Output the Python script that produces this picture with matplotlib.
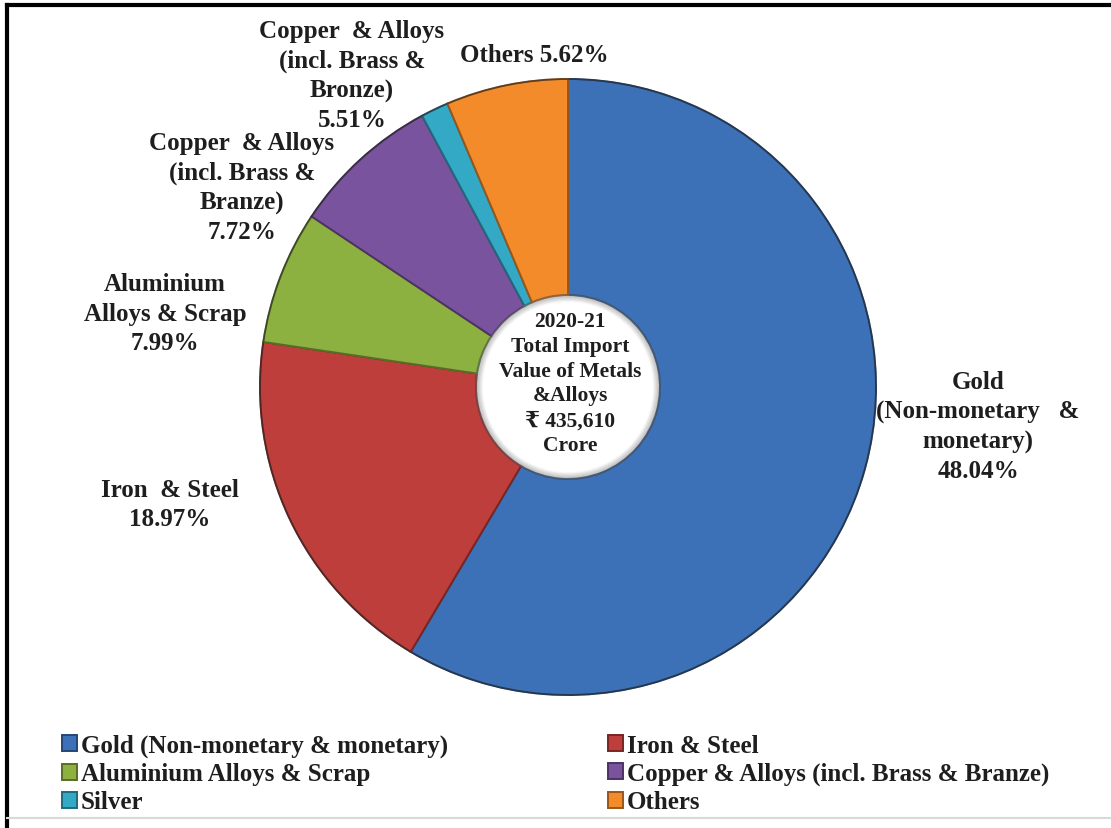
import numpy as np
import matplotlib
matplotlib.use("Agg")
import matplotlib.pyplot as plt
import matplotlib.colors as mcolors
from matplotlib.patches import Circle
from matplotlib.lines import Line2D

# slice shares as drawn in the picture (printed labels differ from the geometry)
categories = ["Gold (Non-monetary & monetary)", "Iron & Steel", "Aluminium Alloys & Scrap",
              "Copper & Alloys (incl. Brass & Branze)", "Silver", "Others"]
shares = [58.5, 18.8, 7.0, 7.8, 1.45, 6.4]
colors = ["#3C71B8", "#BE3E3B", "#8CB140", "#7A539E", "#34A9C6", "#F38B2A"]

# data labels exactly as printed on the chart
slice_labels = [
    "Gold\n(Non-monetary   &\nmonetary)\n48.04%",
    "Iron  & Steel\n18.97%",
    "Aluminium\nAlloys & Scrap\n7.99%",
    "Copper  & Alloys\n(incl. Brass &\nBranze)\n7.72%",
    "Copper  & Alloys\n(incl. Brass &\nBronze)\n5.51%",
    "Others 5.62%",
]
center_text = "2020-21\nTotal Import\nValue of Metals\n&Alloys\n\u20b9 435,610\nCrore"

W, H = 1111, 829
serif = ["Liberation Serif", "DejaVu Serif", "DejaVu Sans"]


def px(x, y):
    # picture pixel coords (y down) -> axes data coords (y up)
    return x, H - y


def darker(c, f=0.7):
    r, g, b = mcolors.to_rgb(c)
    return (r * f, g * f, b * f)


fig = plt.figure(figsize=(W / 100, H / 100), dpi=100)
ax = fig.add_axes([0, 0, 1, 1])

cx, cy = px(568, 388)
r_out, r_in = 308, 92

wedges, _ = ax.pie(shares, colors=colors, startangle=90, counterclock=False,
                   radius=r_out, center=(cx, cy),
                   wedgeprops=dict(width=r_out - r_in, linewidth=1.4))
for w, c in zip(wedges, colors):
    w.set_edgecolor(darker(c, 0.62))

# dark rim on the outside and a soft shadow inside the hole
ax.add_patch(Circle((cx, cy), r_out, fill=False, ec="#2a2a2a", lw=1.2, alpha=0.55))
for i in range(7):
    ax.add_patch(Circle((cx, cy), r_in - i, fill=False, ec="#7a7a7a", lw=1.5,
                        alpha=0.30 * (1 - i / 7)))

label_pos = [(978, 427), (170, 505), (165, 314), (242, 188), (352, 76), (534, 55)]
for txt, (x, y) in zip(slice_labels, label_pos):
    ax.text(*px(x, y), txt, ha="center", va="center", fontsize=18, fontweight="bold",
            family=serif, color="#1e1e1e", linespacing=1.37)

ax.text(*px(570, 384), center_text, ha="center", va="center", fontsize=15.5,
        fontweight="bold", family=serif, color="#1e1e1e", linespacing=1.32)

# legend, filled row by row like the original
order = [0, 2, 4, 1, 3, 5]
leg = ax.legend([wedges[i] for i in order], [categories[i] for i in order],
                ncol=2, loc="upper left", bbox_to_anchor=px(62, 735),
                bbox_transform=ax.transData, frameon=False,
                prop=dict(family=serif, weight="bold", size=18),
                handlelength=0.6, handleheight=0.6, handletextpad=0.15,
                columnspacing=6.4, labelspacing=0.2, borderpad=0, borderaxespad=0)
for t in leg.get_texts():
    t.set_color("#1e1e1e")

# outer frame: heavy top/left, faint bottom
ax.add_line(Line2D([7, W], [H - 6, H - 6], color="black", lw=3))
ax.add_line(Line2D([7, 7], [H - 6, 0], color="black", lw=3))
ax.add_line(Line2D([7, W], [H - 819, H - 819], color="#d9d9d9", lw=1.5))

ax.set_xlim(0, W)
ax.set_ylim(0, H)
ax.set_aspect("auto")
ax.axis("off")

fig.savefig("out.png", dpi=100, facecolor="white")
